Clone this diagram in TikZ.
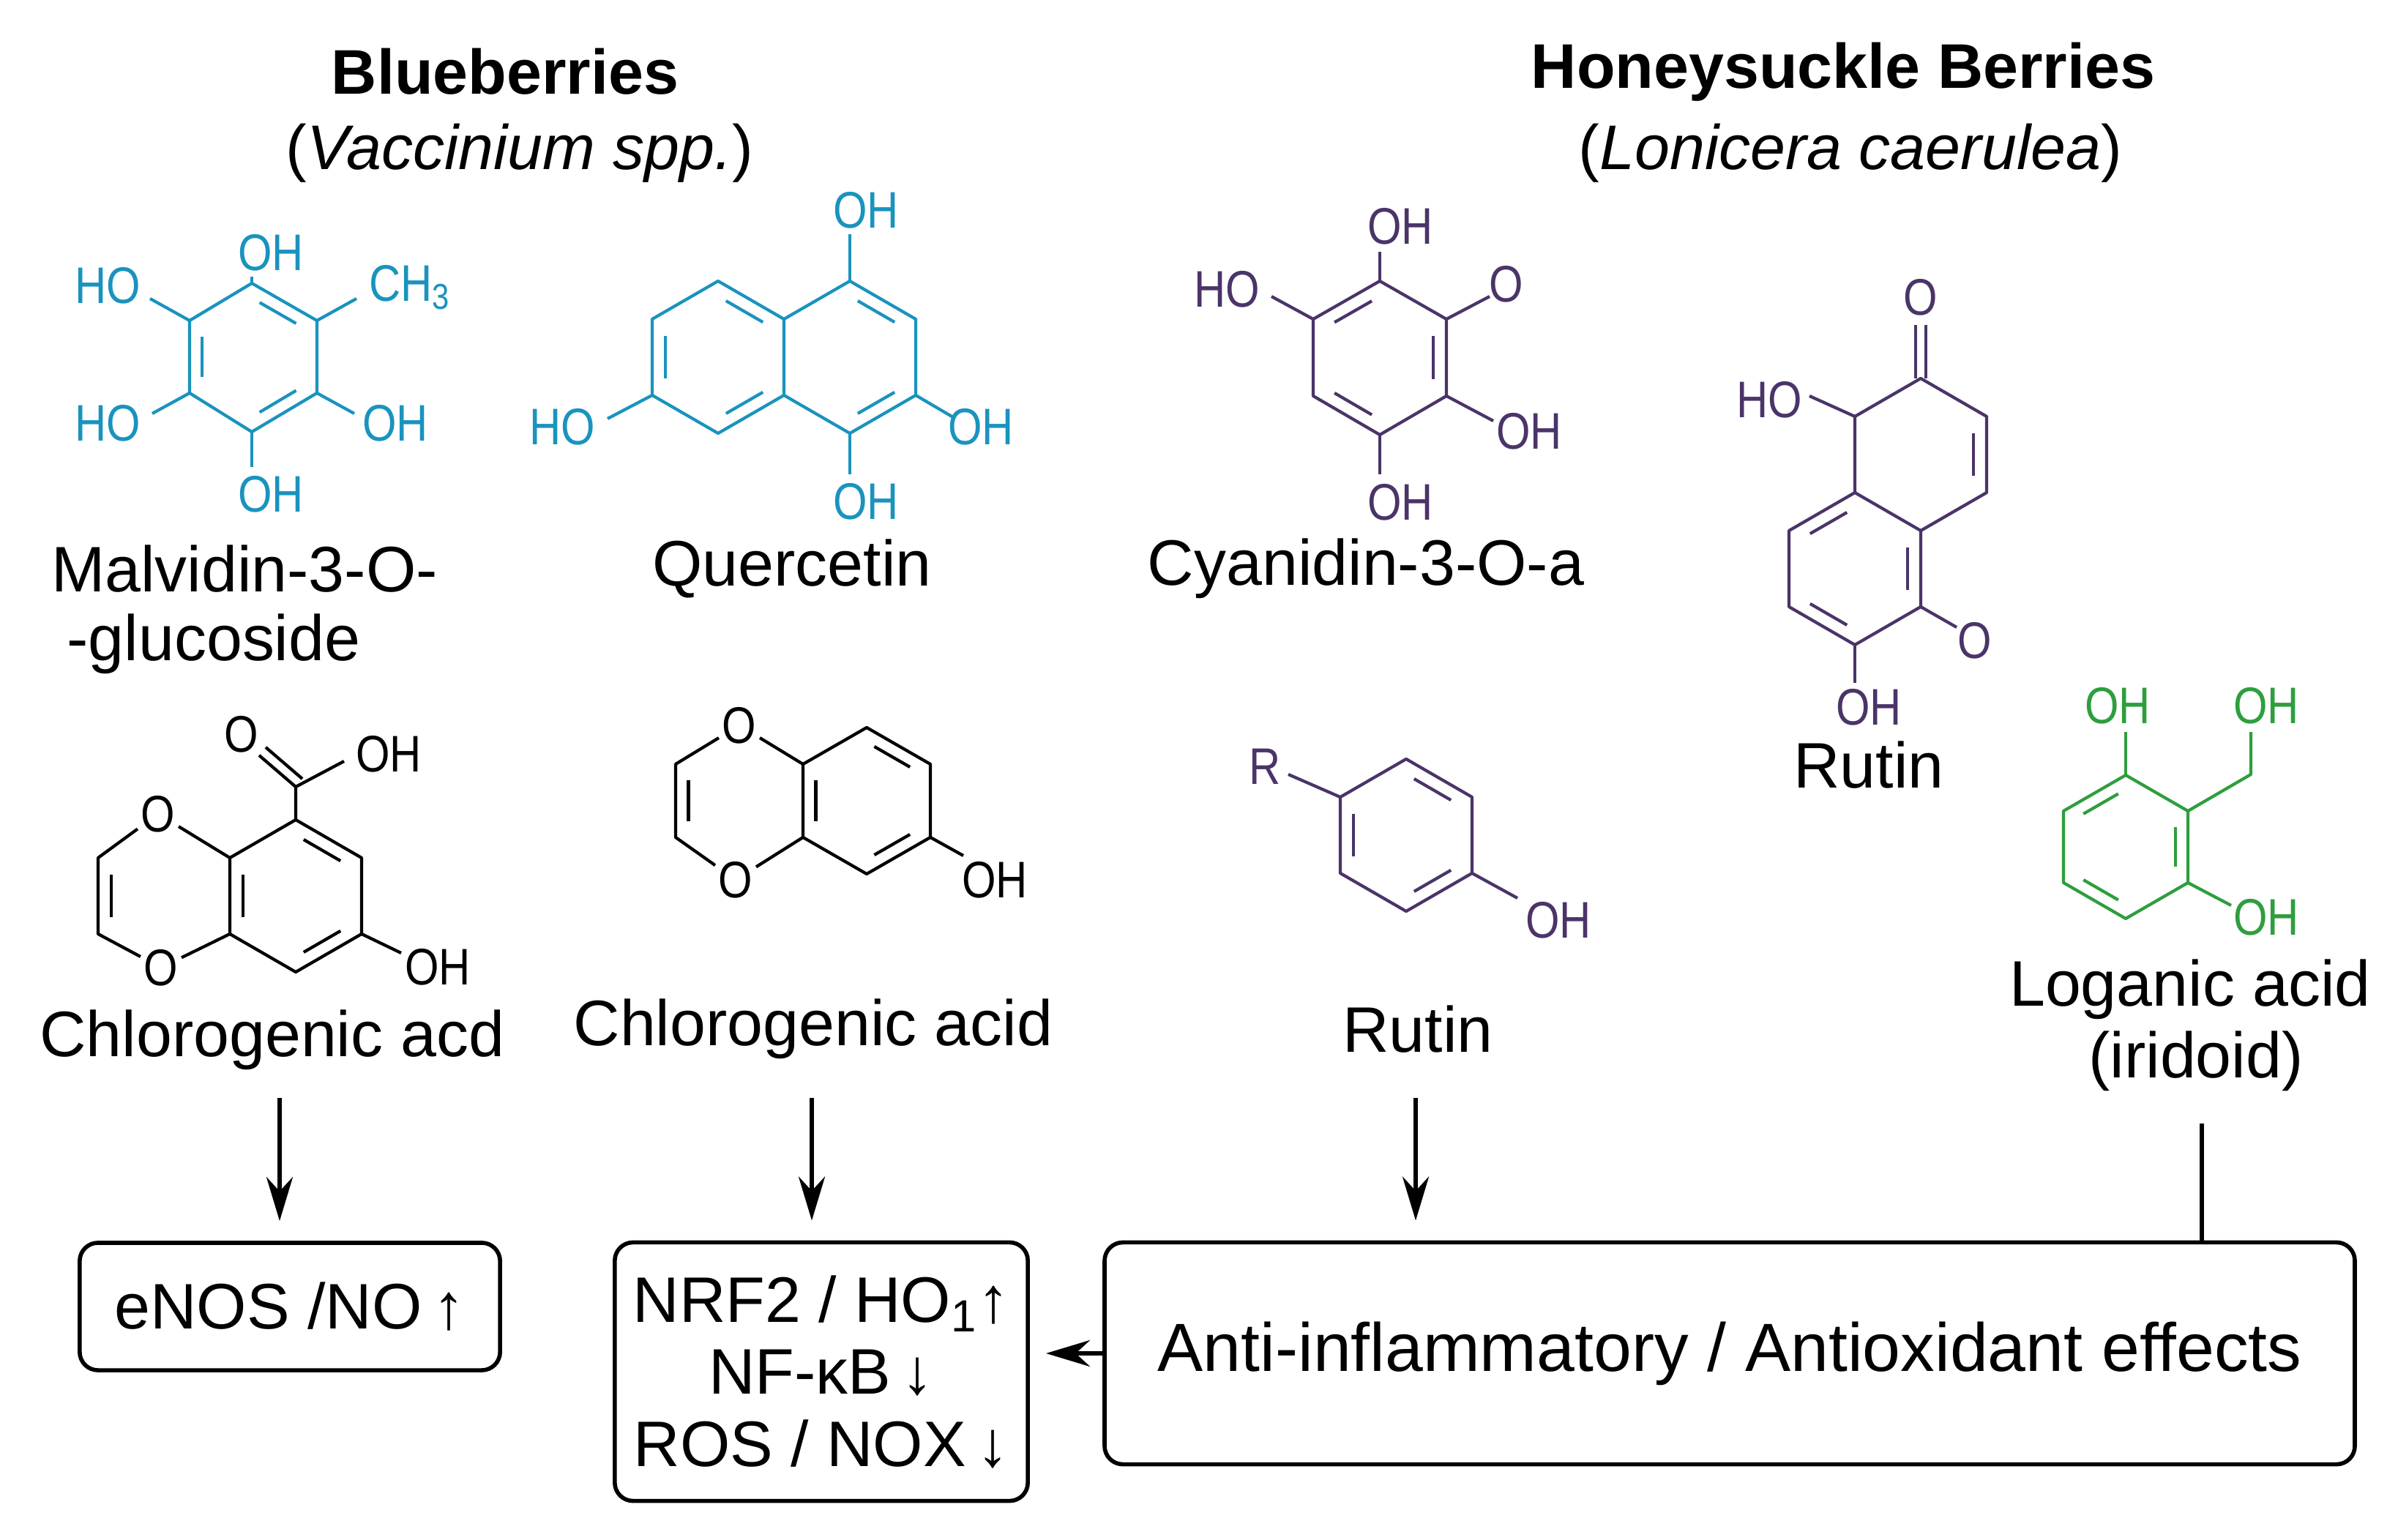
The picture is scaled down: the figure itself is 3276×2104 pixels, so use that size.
\documentclass[tikz,border=0pt]{standalone}
\usepackage{fontspec}
\setmainfont{Liberation Sans}
\usetikzlibrary{calc,arrows.meta}
\definecolor{cblue}{HTML}{1A93BE}
\definecolor{cpurp}{HTML}{4A3468}
\definecolor{cgreen}{HTML}{2E9E3E}
\newcommand\dbl[3]{\path ($(#1)!.2!(#3)$) coordinate (dA) ($(#2)!.2!(#3)$) coordinate (dB); \draw ($(dA)!.15!(dB)$) -- ($(dB)!.15!(dA)$);}
\begin{document}
\begin{tikzpicture}[x=0.01cm,y=-0.01cm,
  bond/.style={line width=1.2pt,line join=round},
  atom/.style={font=\fontsize{20}{22}\selectfont,xscale=0.85,inner sep=1pt},
  lab/.style={font=\fontsize{25}{30}\selectfont,align=center},
  ttl/.style={font=\fontsize{24.5}{28}\selectfont},
  box/.style={draw,line width=1.6pt,rounded corners=0.25cm,font=\fontsize{25}{30}\selectfont,align=center},
  arr/.style={line width=1.7pt,-{Stealth[length=0.6cm,width=0.36cm]}}]
\useasboundingbox (0,0) rectangle (3276,2104);
% titles
\node[ttl,font=\fontsize{24.5}{28}\selectfont\bfseries] (t1) at (690,98) {Blueberries};
\node[ttl] (t1b) at (710,209) {(\textit{Vaccinium spp.})};
\node[ttl,font=\fontsize{24.5}{28}\selectfont\bfseries] (t2) at (2518,98) {Honeysuckle Berries};
\node[ttl] (t2b) at (2528,209) {(\textit{Lonicera caerulea})};
% Malvidin
\begin{scope}[color=cblue,bond]
\coordinate (M) at (344,488);
\coordinate (m1) at (344,387); \coordinate (m2) at (433,438); \coordinate (m3) at (433,537);
\coordinate (m4) at (344,590); \coordinate (m5) at (259,537); \coordinate (m6) at (259,438);
\draw (m1)--(m2)--(m3)--(m4)--(m5)--(m6)--cycle;
\dbl{m1}{m2}{M} \dbl{m6}{m5}{M} \dbl{m3}{m4}{M}
\draw (m1)--(344,378); \draw (m6)--(205,408); \draw (m2)--(487,408);
\draw (m5)--(208,565); \draw (m3)--(484,565); \draw (m4)--(344,638);
\node[atom] (mo1) at (370,345) {OH};
\node[atom] (mo2) at (147,390) {HO};
\node[atom] (mo3) at (560,393) {CH\textsubscript{3}};
\node[atom] (mo4) at (147,578) {HO};
\node[atom] (mo5) at (540,578) {OH};
\node[atom] (mo6) at (370,675) {OH};
\end{scope}
% Quercetin
\begin{scope}[color=cblue,bond]
\coordinate (Q) at (1161,488); \coordinate (P) at (981,488);
\coordinate (q1) at (1161,384); \coordinate (q2) at (1251,436); \coordinate (q3) at (1251,540);
\coordinate (q4) at (1161,592); \coordinate (q5) at (1071,540); \coordinate (q6) at (1071,436);
\coordinate (p1) at (981,384); \coordinate (p4) at (981,592); \coordinate (p5) at (891,540); \coordinate (p6) at (891,436);
\draw (q1)--(q2)--(q3)--(q4)--(q5)--(q6)--cycle;
\draw (q6)--(p1)--(p6)--(p5)--(p4)--(q5);
\dbl{q1}{q2}{Q} \dbl{q3}{q4}{Q} \dbl{p1}{q6}{P} \dbl{p6}{p5}{P} \dbl{q5}{p4}{P}
\draw (q1)--(1161,320); \draw (p5)--(830,572); \draw (q3)--(1302,570); \draw (q4)--(1161,648);
\node[atom] (qo1) at (1183,287) {OH};
\node[atom] (qo2) at (768,583) {HO};
\node[atom] (qo3) at (1340,583) {OH};
\node[atom] (qo4) at (1183,685) {OH};
\end{scope}
% Cyanidin
\begin{scope}[color=cpurp,bond]
\coordinate (C) at (1885,489);
\coordinate (c1) at (1885,384); \coordinate (c2) at (1976,436); \coordinate (c3) at (1976,541);
\coordinate (c4) at (1885,594); \coordinate (c5) at (1794,541); \coordinate (c6) at (1794,436);
\draw (c1)--(c2)--(c3)--(c4)--(c5)--(c6)--cycle;
\dbl{c1}{c6}{C} \dbl{c2}{c3}{C} \dbl{c5}{c4}{C}
\draw (c1)--(1885,344); \draw (c6)--(1737,405); \draw (c2)--(2035,405);
\draw (c3)--(2040,575); \draw (c4)--(1885,648);
\node[atom] (co1) at (1913,309) {OH};
\node[atom] (co2) at (1676,395) {HO};
\node[atom] (co3) at (2058,388) {O};
\node[atom] (co4) at (2089,589) {OH};
\node[atom] (co5) at (1913,686) {OH};
\end{scope}
% Rutin (upper)
\begin{scope}[color=cpurp,bond]
\coordinate (U) at (2624,621); \coordinate (L) at (2534,777);
\coordinate (u1) at (2624,517); \coordinate (u2) at (2714,569); \coordinate (u3) at (2714,673);
\coordinate (u4) at (2624,725); \coordinate (u5) at (2534,673); \coordinate (u6) at (2534,569);
\coordinate (l3) at (2624,829); \coordinate (l4) at (2534,881); \coordinate (l5) at (2444,829); \coordinate (l6) at (2444,725);
\draw (u1)--(u2)--(u3)--(u4)--(u5)--(u6)--cycle;
\draw (u5)--(l6)--(l5)--(l4)--(l3)--(u4);
\dbl{u2}{u3}{U} \dbl{l6}{u5}{L} \dbl{l5}{l4}{L} \dbl{u4}{l3}{L}
\draw (2617,517)--(2617,444); \draw (2631,517)--(2631,444);
\draw (u6)--(2472,541); \draw (l3)--(2673,857); \draw (l4)--(2534,933);
\node[atom] (ro1) at (2624,406) {O};
\node[atom] (ro2) at (2417,546) {HO};
\node[atom] (ro3) at (2698,875) {O};
\node[atom] (ro4) at (2553,966) {OH};
\end{scope}
% Rutin (small)
\begin{scope}[color=cpurp,bond]
\coordinate (S) at (1921,1141);
\coordinate (s1) at (1921,1037); \coordinate (s2) at (2011,1089); \coordinate (s3) at (2011,1193);
\coordinate (s4) at (1921,1245); \coordinate (s5) at (1831,1193); \coordinate (s6) at (1831,1089);
\draw (s1)--(s2)--(s3)--(s4)--(s5)--(s6)--cycle;
\dbl{s1}{s2}{S} \dbl{s6}{s5}{S} \dbl{s3}{s4}{S}
\draw (s6)--(1760,1058); \draw (s3)--(2073,1227);
\node[atom] (so1) at (1728,1047) {R};
\node[atom] (so2) at (2129,1257) {OH};
\end{scope}
% Loganic acid
\begin{scope}[color=cgreen,bond]
\coordinate (G) at (2904,1157);
\coordinate (g1) at (2904,1059); \coordinate (g2) at (2989,1108); \coordinate (g3) at (2989,1206);
\coordinate (g4) at (2904,1255); \coordinate (g5) at (2819,1206); \coordinate (g6) at (2819,1108);
\draw (g1)--(g2)--(g3)--(g4)--(g5)--(g6)--cycle;
\dbl{g1}{g6}{G} \dbl{g2}{g3}{G} \dbl{g5}{g4}{G}
\draw (g1)--(2904,1000); \draw (g2)--(3075,1058)--(3075,1000); \draw (g3)--(3048,1237);
\node[atom] (go1) at (2893,964) {OH};
\node[atom] (go2) at (3096,964) {OH};
\node[atom] (go3) at (3096,1253) {OH};
\end{scope}
% Chlorogenic acd
\begin{scope}[bond]
\coordinate (B) at (404,1224); \coordinate (A) at (224,1224);
\coordinate (b1) at (404,1120); \coordinate (b2) at (494,1172); \coordinate (b3) at (494,1276);
\coordinate (b4) at (404,1328); \coordinate (b5) at (314,1276); \coordinate (b6) at (314,1172);
\coordinate (a5) at (134,1276); \coordinate (a6) at (134,1172);
\node[atom] (oa1) at (216,1112) {O};
\node[atom] (oa4) at (220,1322) {O};
\draw (b1)--(b2)--(b3)--(b4)--(b5)--(b6)--cycle;
\draw (b6)--(oa1)--(a6)--(a5)--(oa4)--(b5);
\dbl{b1}{b2}{B} \dbl{b5}{b6}{B} \dbl{b3}{b4}{B} \dbl{a6}{a5}{A}
\coordinate (cc) at (404,1075);
\draw (b1)--(cc)--(470,1040);
\draw (cc)--(354,1032); \draw (413,1064)--(363,1021);
\draw (b3)--(548,1302);
\node[atom] (ko1) at (330,1003) {O};
\node[atom] (ko2) at (531,1030) {OH};
\node[atom] (ko3) at (598,1321) {OH};
\end{scope}
% Chlorogenic acid
\begin{scope}[bond]
\coordinate (E) at (1184,1094); \coordinate (F) at (1010,1094);
\coordinate (e1) at (1184,994); \coordinate (e2) at (1271,1044); \coordinate (e3) at (1271,1144);
\coordinate (e4) at (1184,1194); \coordinate (e5) at (1097,1144); \coordinate (e6) at (1097,1044);
\coordinate (f5) at (923,1144); \coordinate (f6) at (923,1044);
\node[atom] (of1) at (1010,991) {O};
\node[atom] (of4) at (1005,1202) {O};
\draw (e1)--(e2)--(e3)--(e4)--(e5)--(e6)--cycle;
\draw (e6)--(of1)--(f6)--(f5)--(of4)--(e5);
\dbl{e1}{e2}{E} \dbl{e6}{e5}{E} \dbl{e3}{e4}{E} \dbl{f6}{f5}{F}
\draw (e3)--(1316,1169);
\node[atom] (ho1) at (1359,1202) {OH};
\end{scope}
% labels
\node[lab] (n1) at (334,777) {Malvidin-3-O-};
\node[lab] (n1b) at (292,880) {-glucoside};
\node[lab] (n2) at (1082,777) {Quercetin};
\node[lab] (n3) at (1866,777) {Cyanidin-3-O-a};
\node[lab] (n4) at (2553,1045) {Rutin};
\node[lab] (n5) at (372,1421) {Chlorogenic acd};
\node[lab] (n6) at (1111,1406) {Chlorogenic acid};
\node[lab] (n7) at (1937,1406) {Rutin};
\node[lab] (n8) at (2992,1352) {Loganic acid};
\node[lab] (n9) at (3000,1450) {(iridoid)};
% boxes
\node[box,minimum width=5.74cm,minimum height=1.74cm] (enos) at (396,1785) {eNOS /NO\,↑};
\node[box,minimum width=5.64cm,minimum height=3.53cm] (nrf) at (1122,1874) {NRF2 / HO\textsubscript{1}↑\\[-2pt]NF-κB\,↓\\[-2pt]ROS / NOX\,↓};
\node[box,minimum width=17.07cm,minimum height=3.03cm,font=\fontsize{26.5}{30}\selectfont] (anti) at (2363,1849) {Anti-inflammatory / Antioxidant effects};
% connectors
\coordinate (s1a) at (382,1500);
\coordinate (s2a) at (1109,1500);
\coordinate (s3a) at (1934,1500);
\coordinate (s4a) at (3008,1535);
\draw[arr,shorten >=0.27cm] (s1a) -- (s1a |- enos.north);
\draw[arr,shorten >=0.27cm] (s2a) -- (s2a |- nrf.north);
\draw[arr,shorten >=0.27cm] (s3a) -- (s3a |- anti.north);
\draw[line width=1.7pt] (s4a) -- (s4a |- anti.north);
\draw[arr,shorten >=0.22cm] (anti.west) -- (anti.west -| nrf.east);
\end{tikzpicture}
\end{document}
